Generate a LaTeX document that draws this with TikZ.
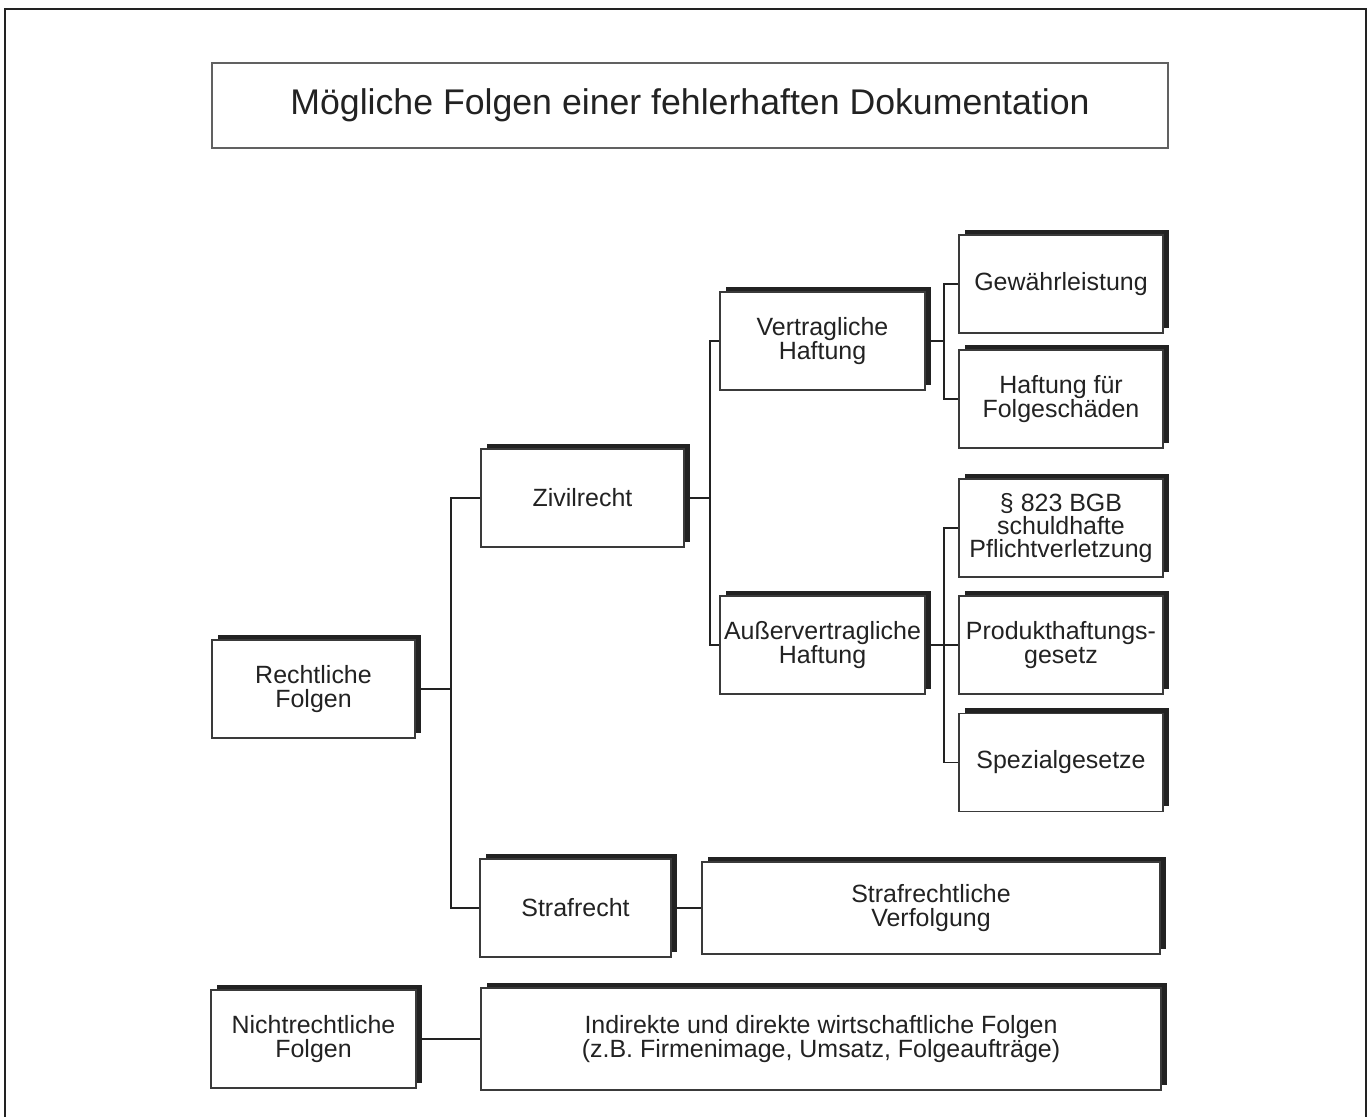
\documentclass[tikz,border=0pt]{standalone}
\usepackage{fontspec}
\setmainfont{Liberation Sans}
\usepackage{tikz}
\usetikzlibrary{positioning,shadows}
\usepackage{xcolor}
\definecolor{ink}{HTML}{222222}
\definecolor{rim}{HTML}{3A3A3A}

\begin{document}
\begin{tikzpicture}[
  box/.style={draw=rim,line width=0.6pt,fill=white,text=ink,align=center,inner sep=0pt,
    minimum width=4.06cm,minimum height=1.96cm,font=\fontsize{14.2}{13.3}\selectfont,
    general shadow={fill=ink,shadow xshift=0.11cm,shadow yshift=0.11cm}},
  link/.style={draw=ink,line width=0.6pt}]
\useasboundingbox (0,0) rectangle (27.44,-22.34);
\draw[line width=1.1pt,ink] (0.1,-22.6) -- (0.1,-0.18) -- (27.32,-0.18) -- (27.32,-22.6);
\node[draw=rim!80,line width=0.6pt,text=ink,minimum width=19.12cm,minimum height=1.7cm,inner sep=0pt,font=\fontsize{20.3}{24}\selectfont] (title) at (13.8,-2.11) {Mögliche Folgen einer fehlerhaften Dokumentation};
% Rechtliche Folgen
\node[box] (rf) at (6.27,-13.78) {Rechtliche\\Folgen};
\node[box] (ziv) at (11.65,-9.96) {Zivilrecht};
\node[box,minimum width=3.82cm] (sr) at (11.51,-18.16) {Strafrecht};
\node[box,minimum width=4.1cm] (vh) at (16.45,-6.82) {Vertragliche\\Haftung};
\node[box,minimum width=4.1cm] (av) at (16.45,-12.9) {Außervertragliche\\Haftung};
\node[box,minimum width=4.08cm] (gw) at (21.22,-5.68) {Gewährleistung};
\node[box,minimum width=4.08cm] (hf) at (21.22,-7.98) {Haftung für\\Folgeschäden};
\node[box,minimum width=4.08cm] (pv) at (21.22,-10.56) {§ 823 BGB\\schuldhafte\\Pflichtverletzung};
\node[box,minimum width=4.08cm] (ph) at (21.22,-12.9) {Produkthaftungs-\\gesetz};
\node[box,minimum width=4.08cm] (sg) at (21.22,-15.25) {Spezialgesetze};
\node[box,minimum width=9.16cm,minimum height=1.84cm] (sv) at (18.62,-18.16) {Strafrechtliche\\Verfolgung};
% Nichtrechtliche Folgen
\node[box,minimum width=4.1cm] (nf) at (6.27,-20.78) {Nichtrechtliche\\Folgen};
\node[box,minimum width=13.6cm,minimum height=2.04cm] (ind) at (16.42,-20.78) {Indirekte und direkte wirtschaftliche Folgen\\(z.B. Firmenimage, Umsatz, Folgeaufträge)};
% Verbindungen
\coordinate (j1) at (9.02,-13.78);
\coordinate (j2) at (14.2,-9.96);
\coordinate (j3) at (18.88,-6.82);
\coordinate (j4) at (18.88,-12.9);
\draw[link] (rf.east) -- (j1);
\draw[link] (ziv.west) -- (ziv.west -| j1) -- (sr.west -| j1) -- (sr.west);
\draw[link] (ziv.east) -- (j2);
\draw[link] (vh.west) -- (vh.west -| j2) -- (av.west -| j2) -- (av.west);
\draw[link] (vh.east) -- (j3);
\draw[link] (gw.west) -- (gw.west -| j3) -- (hf.west -| j3) -- (hf.west);
\draw[link] (av.east) -- (j4);
\draw[link] (pv.west) -- (pv.west -| j4) -- (sg.west -| j4) -- (sg.west);
\draw[link] (ph.west) -- (j4);
\draw[link] (sr.east) -- (sv.west);
\draw[link] (nf.east) -- (ind.west);
\end{tikzpicture}
\end{document}
